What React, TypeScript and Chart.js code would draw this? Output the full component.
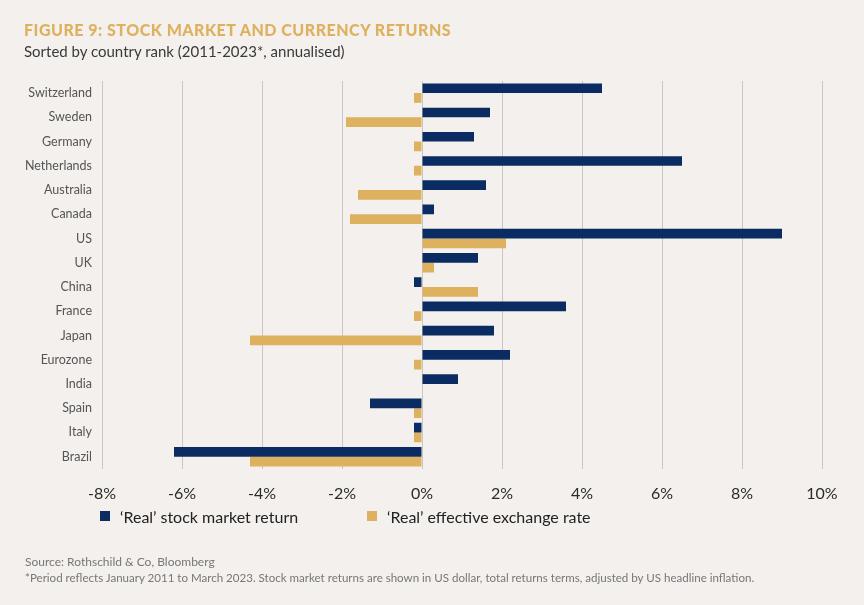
import React, { useEffect, useRef } from "react";
import { Chart, registerables } from "chart.js";

Chart.register(...registerables);

const countries = [
  "Switzerland", "Sweden", "Germany", "Netherlands", "Australia", "Canada", "US", "UK",
  "China", "France", "Japan", "Eurozone", "India", "Spain", "Italy", "Brazil",
];
const stockReturn = [4.5, 1.7, 1.3, 6.5, 1.6, 0.3, 9.0, 1.4, -0.2, 3.6, 1.8, 2.2, 0.9, -1.3, -0.2, -6.2];
const exchangeRate = [-0.2, -1.9, -0.2, -0.2, -1.6, -1.8, 2.1, 0.3, 1.4, -0.2, -4.3, -0.2, 0, -0.2, -0.2, -4.3];
const xMin = -8;
const xMax = 10;
const xStep = 2;

const seriesNames = ["\u2018Real\u2019 stock market return", "\u2018Real\u2019 effective exchange rate"];

const NAVY = "#0a2c62";
const GOLD = "#ddb15e";
const BG = "#f3f0ed";
const FONT = "Lato, 'Noto Sans', sans-serif";

export default function App() {
  const ref = useRef<HTMLCanvasElement>(null);

  useEffect(() => {
    const chart = new Chart(ref.current!, {
      type: "bar",
      data: {
        labels: countries,
        datasets: [
          { label: seriesNames[0], data: stockReturn, backgroundColor: NAVY, categoryPercentage: 0.8, barPercentage: 1 },
          { label: seriesNames[1], data: exchangeRate, backgroundColor: GOLD, categoryPercentage: 0.8, barPercentage: 1 },
        ],
      },
      options: {
        indexAxis: "y",
        responsive: false,
        maintainAspectRatio: false,
        animation: false,
        layout: { padding: { top: 81, bottom: 87, left: 0, right: 42 } },
        plugins: { legend: { display: false }, tooltip: { enabled: false } },
        scales: {
          x: {
            min: xMin,
            max: xMax,
            ticks: {
              stepSize: xStep,
              callback: (v: any) => `${v}%`,
              color: "#2b2b2b",
              font: { family: FONT, size: 16 },
              padding: 15,
            },
            grid: { color: "#c9c5c1", lineWidth: 1, drawTicks: false },
            border: { display: false },
          },
          y: {
            grid: { display: false, drawTicks: false },
            border: { display: false },
            ticks: { color: "#555", font: { family: FONT, size: 12.5 }, padding: 10 },
            afterFit: (s: any) => {
              s.width = 102;
            },
          },
        },
      },
    });
    return () => chart.destroy();
  }, []);

  return (
    <div style={{ position: "fixed", left: 0, top: 0, width: 864, height: 605, background: BG, overflow: "hidden", fontFamily: FONT }}>
      <canvas ref={ref} width={864} height={605} style={{ position: "absolute", left: 0, top: 0, width: 864, height: 605 }} />
      <div style={{ position: "absolute", left: 24, top: 22, fontSize: 16, lineHeight: "16px", fontWeight: 900, letterSpacing: 0.5, color: GOLD, whiteSpace: "nowrap" }}>
        FIGURE 9: STOCK MARKET AND CURRENCY RETURNS
      </div>
      <div style={{ position: "absolute", left: 24, top: 43, fontSize: 15, lineHeight: "16px", color: "#3a3a3a", whiteSpace: "nowrap" }}>
        Sorted by country rank (2011-2023*, annualised)
      </div>
      <div style={{ position: "absolute", left: 100, top: 506, height: 20, display: "flex", alignItems: "center", fontSize: 16, color: "#222", whiteSpace: "nowrap" }}>
        <span style={{ width: 10, height: 10, background: NAVY, display: "inline-block", marginRight: 10 }} />
        <span>{seriesNames[0]}</span>
      </div>
      <div style={{ position: "absolute", left: 367, top: 506, height: 20, display: "flex", alignItems: "center", fontSize: 16, color: "#222", whiteSpace: "nowrap" }}>
        <span style={{ width: 10, height: 10, background: GOLD, display: "inline-block", marginRight: 10 }} />
        <span>{seriesNames[1]}</span>
      </div>
      <div style={{ position: "absolute", left: 25, top: 554, fontSize: 12, lineHeight: "16px", color: "#777", whiteSpace: "nowrap" }}>
        Source: Rothschild &amp; Co, Bloomberg
      </div>
      <div style={{ position: "absolute", left: 25, top: 570, fontSize: 11.55, lineHeight: "16px", color: "#777", whiteSpace: "nowrap" }}>
        *Period reflects January 2011 to March 2023. Stock market returns are shown in US dollar, total returns terms, adjusted by US headline inflation.
      </div>
    </div>
  );
}
